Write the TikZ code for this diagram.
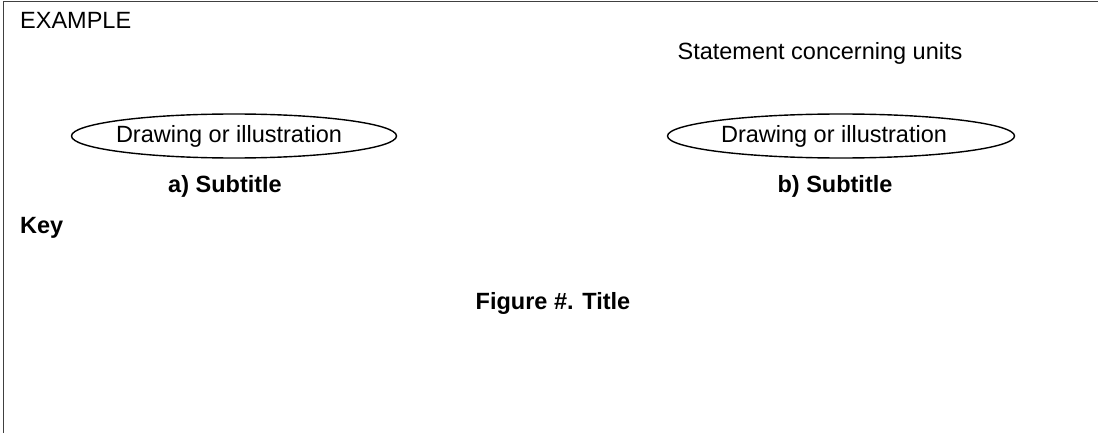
\documentclass[tikz,border=0pt]{standalone}
\usepackage{fontspec}
\setmainfont{Liberation Sans}
\usetikzlibrary{shapes.geometric,positioning}
\tikzset{
  labelfont/.style={font=\fontsize{23.5}{28}\selectfont},
  boldfont/.style={font=\fontsize{23.5}{28}\selectfont\bfseries},
  frameline/.style={draw=black!75, line width=1.3pt},
  drawing/.style={draw, ellipse, line width=1.4pt, minimum height=44pt, inner sep=0pt},
  plain/.style={inner sep=0pt, anchor=base west},
  centred/.style={inner sep=0pt, anchor=base}
}
\begin{document}
\begin{tikzpicture}[x=1pt, y=-1pt, every node/.style={labelfont}]
        \useasboundingbox (0,0) rectangle (1098,433);
        \coordinate (frametl) at (3.5,1.5);
        \coordinate (framebl) at (3.5,433);
        \coordinate (frametr) at (1098,1.5);
        \draw[frameline] (framebl) -- (frametl) -- (frametr);

        \node[plain] (example) at (20,29) {EXAMPLE};
        \node[centred] (units) at (820,60) {Statement concerning units};

        \node[drawing, minimum width=325pt] (drawa) at (234,136) {\hspace*{-10pt}Drawing or illustration};
        \node[drawing, minimum width=347pt] (drawb) at (841,136) {\hspace*{-14pt}Drawing or illustration};
        \node[centred, boldfont] (suba) at (225,193) {a) Subtitle};
        \node[centred, boldfont] (subb) at (835,193) {b) Subtitle};

        \node[plain, boldfont] (key) at (20,233) {Key};
        \node[centred, boldfont] (title) at (553,309) {Figure \#. Title};
    \end{tikzpicture}
\end{document}
